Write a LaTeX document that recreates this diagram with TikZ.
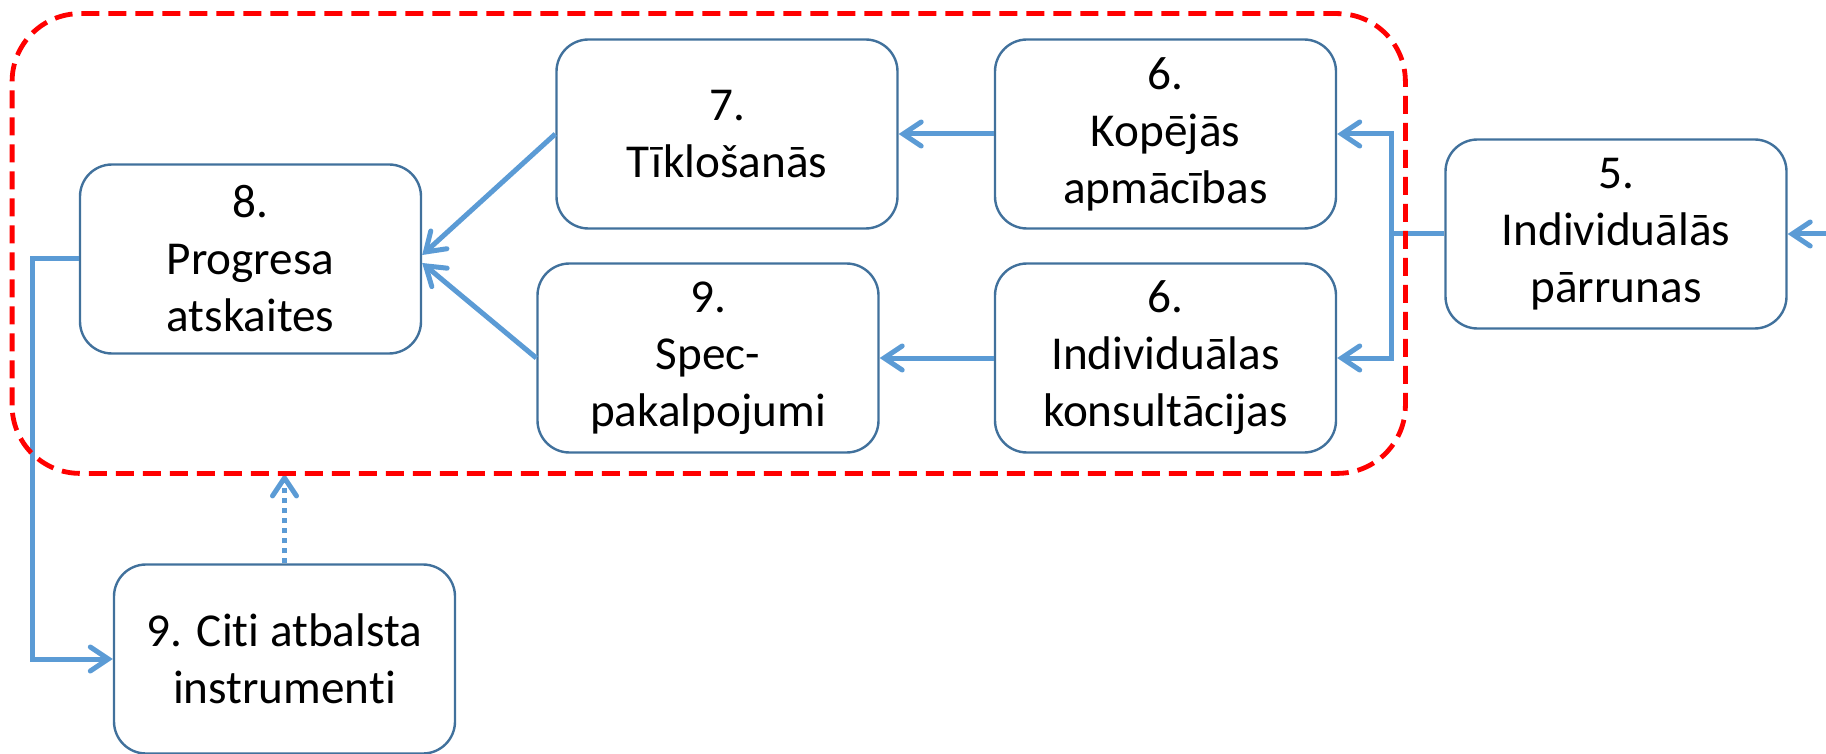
\documentclass[tikz,border=0pt]{standalone}
\usepackage{fontspec}
\setmainfont{Carlito}[Ligatures={NoCommon}]
\usetikzlibrary{arrows.meta,calc}
\definecolor{connblue}{HTML}{5B9BD5}
\definecolor{boxline}{HTML}{41719C}
\definecolor{grpred}{HTML}{FF0000}
\begin{document}
\begin{tikzpicture}[x=0.5pt,y=-0.5pt,
  box/.style={draw=boxline, line width=1.2pt, fill=white, rounded corners=16pt,
    minimum width=170.5pt, minimum height=94.5pt, inner sep=0pt, align=center,
    font=\fontsize{23.6}{28.5}\selectfont},
  conn/.style={draw=connblue, line width=2.5pt,
    -{Straight Barb[length=9pt,width=12pt,line cap=round]}},
  grpstyle/.style={draw=grpred, line width=2.4pt, dash pattern=on 9pt off 4.5pt,
    rounded corners=34pt},
  ]
\useasboundingbox (0,0) rectangle (1826,754);
% group frame (placeholder node for anchors)
\node[minimum width=696.25pt, minimum height=229.5pt, inner sep=0pt] (grp) at (708.75,243.5) {};

% boxes
\node[box] (b8) at (250.5,259) {8.\\Progresa\\atskaites};
\node[box] (b7) at (727,134) {7.\\Tīklošanās};
\node[box] (b6a) at (1165.5,134) {6.\\Kopējās\\apmācības};
\node[box] (b9) at (708,358) {9.\\Spec-\\pakalpojumi};
\node[box] (b6b) at (1165.5,358) {6.\\Individuālas\\konsultācijas};
\node[box] (b5) at (1616,234) {5.\\Individuālās\\pārrunas};
\node[box] (b10) at (284.5,659) {9. Citi atbalsta\\instrumenti};

% connectors
\coordinate (bus) at (1391,234);
\coordinate (in5) at (1830,234);
\coordinate (lft) at (32.5,259);
\draw[conn] (in5) -- (b5.east);
\draw[conn] (b5.west) -- (bus) |- (b6a.east);
\draw[conn] (bus) |- (b6b.east);
\draw[conn] (b6a.west) -- (b7.east);
\draw[conn] (b6b.west) -- (b9.east);
\draw[conn] (b7.west) -- ($(b8.east)+(0,-4)$);
\draw[conn] (b9.west) -- ($(b8.east)+(0,4)$);
\draw[conn] (b8.west) -- (lft) |- (b10.west);
\draw[conn, dash pattern=on 2.5pt off 2.5pt] (b10.north) -- (b10.north |- grp.south);

% red dashed group frame
\draw[grpstyle] (grp.south west) rectangle (grp.north east);
\end{tikzpicture}
\end{document}
